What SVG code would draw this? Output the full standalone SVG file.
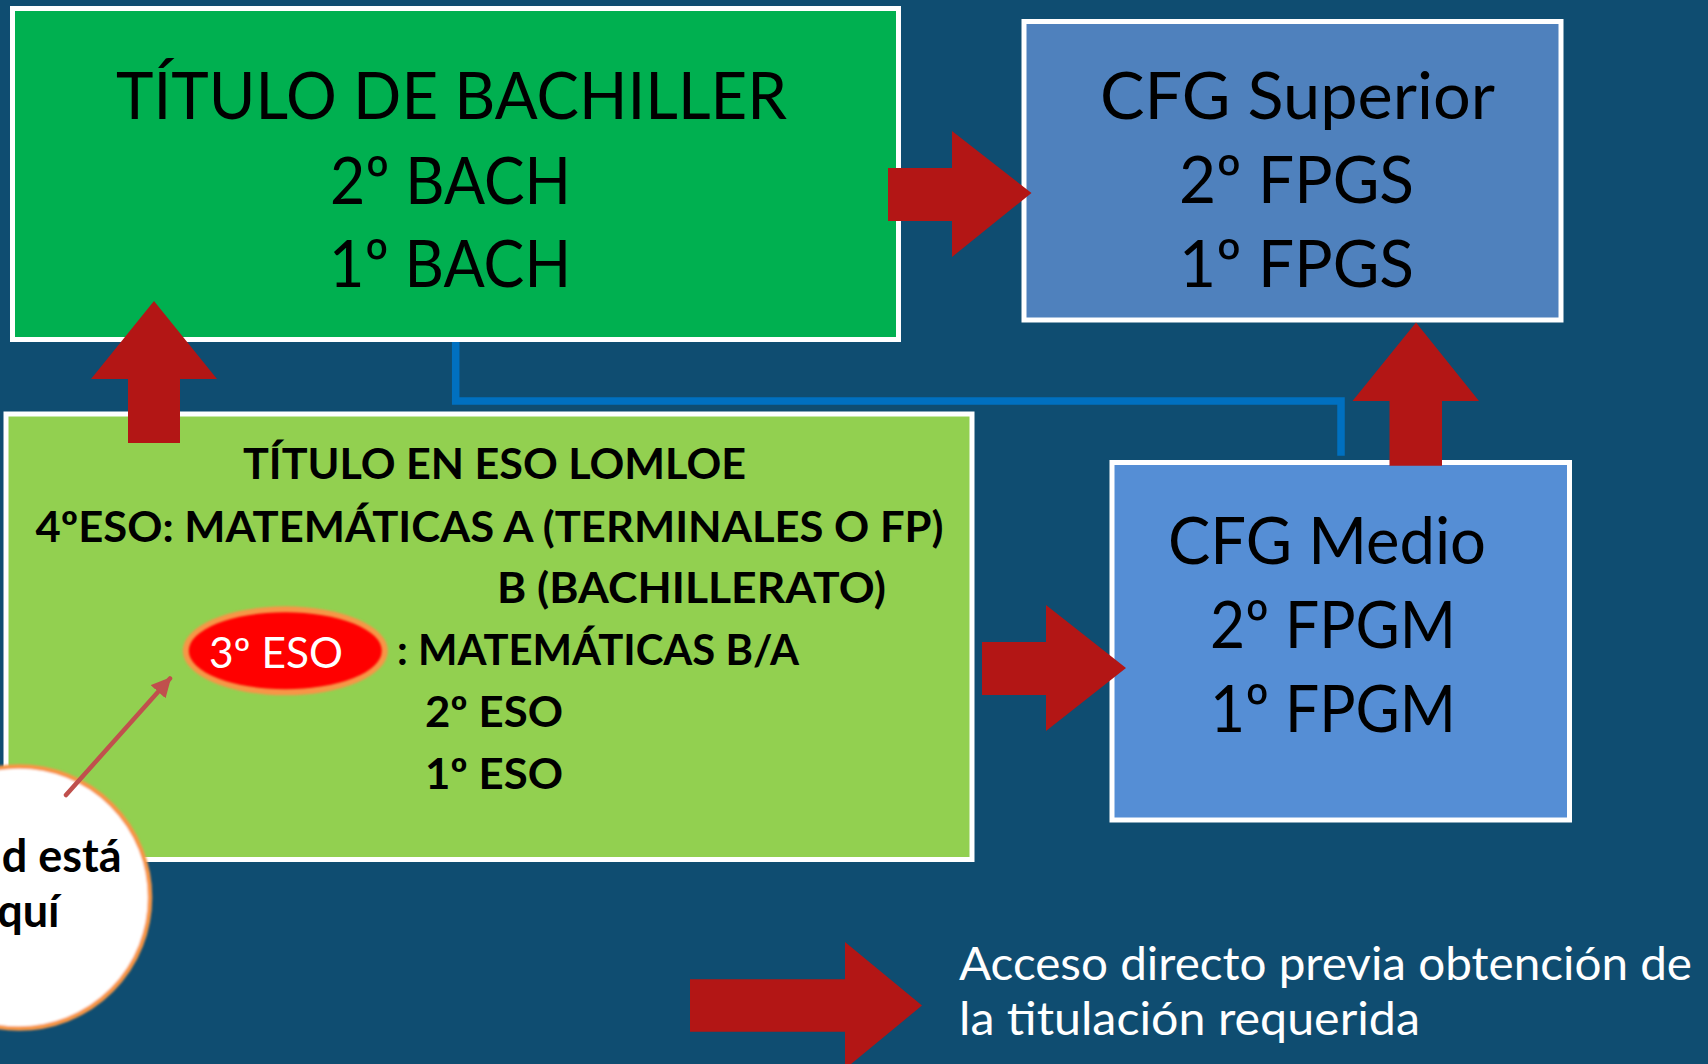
<svg xmlns="http://www.w3.org/2000/svg" width="1708" height="1064" viewBox="0 0 1708 1064">
  <defs>
    <style>
      .box { stroke: #ffffff; stroke-width: 5; }
      .big { font-family: Lato, "Liberation Sans", sans-serif; font-size: 66px; fill: #000000; }
      .eso { font-family: Lato, "Liberation Sans", sans-serif; font-size: 42px; font-weight: bold; fill: #000000; }
      .legend { font-family: Lato, "Liberation Sans", sans-serif; font-size: 47px; fill: #ffffff; }
      .arrow { fill: #b31615; }
      .link { fill: none; stroke: #0070c0; stroke-width: 7.5; }
    </style>
    <filter id="soft" x="-10%" y="-10%" width="120%" height="120%">
      <feGaussianBlur stdDeviation="1.2"/>
    </filter>
    <filter id="soft2" x="-10%" y="-10%" width="120%" height="120%">
      <feGaussianBlur stdDeviation="0.8"/>
    </filter>
    <marker id="thinhead" viewBox="0 0 10 10" refX="9" refY="5" markerWidth="4.4" markerHeight="4.4" orient="auto" markerUnits="strokeWidth">
      <path d="M0,0 L10,5 L0,10 Z" fill="#c0504d"/>
    </marker>
  </defs>

  <rect x="0" y="0" width="1708" height="1064" fill="#0f4d71"/>

  <g id="node-bachiller">
    <rect class="box" x="12.5" y="8.5" width="886" height="331" fill="#00b050"/>
    <text class="big" x="116" y="119" textLength="671" lengthAdjust="spacingAndGlyphs">TÍTULO DE BACHILLER</text>
    <text class="big" x="330" y="204" textLength="241" lengthAdjust="spacingAndGlyphs">2º BACH</text>
    <text class="big" x="329" y="287" textLength="242" lengthAdjust="spacingAndGlyphs">1º BACH</text>
  </g>

  <g id="node-cfg-superior">
    <rect class="box" x="1024" y="21.5" width="537" height="298.5" fill="#4f81bd"/>
    <text class="big" x="1100" y="119" textLength="395" lengthAdjust="spacingAndGlyphs">CFG Superior</text>
    <text class="big" x="1179" y="203" textLength="235" lengthAdjust="spacingAndGlyphs">2º FPGS</text>
    <text class="big" x="1179" y="287" textLength="235" lengthAdjust="spacingAndGlyphs">1º FPGS</text>
  </g>

  <g id="node-eso">
    <rect class="box" x="6" y="414" width="966" height="445.5" fill="#92d050"/>
    <text class="eso" x="243" y="479" textLength="503" lengthAdjust="spacingAndGlyphs">TÍTULO EN ESO LOMLOE</text>
    <text class="eso" x="35.5" y="541.7" textLength="908" lengthAdjust="spacingAndGlyphs">4ºESO: MATEMÁTICAS A (TERMINALES O FP)</text>
    <text class="eso" x="497" y="603.3" textLength="389" lengthAdjust="spacingAndGlyphs">B (BACHILLERATO)</text>
    <text class="eso" x="397" y="665" textLength="402" lengthAdjust="spacingAndGlyphs">: MATEMÁTICAS B/A</text>
    <text class="eso" x="425" y="726.7" textLength="138" lengthAdjust="spacingAndGlyphs">2º ESO</text>
    <text class="eso" x="425" y="789.3" textLength="138" lengthAdjust="spacingAndGlyphs">1º ESO</text>
  </g>

  <g id="node-3eso">
    <ellipse cx="285.3" cy="650.8" rx="102.5" ry="44.5" fill="#f79646" filter="url(#soft)"/>
    <ellipse cx="285.3" cy="650.8" rx="96.5" ry="38.5" fill="#ff0000" filter="url(#soft2)"/>
    <text x="209" y="668.3" textLength="134" lengthAdjust="spacingAndGlyphs" style="font-family: Lato, 'Liberation Sans', sans-serif; font-size: 42px; fill: #ffffff;">3º ESO</text>
  </g>

  <g id="node-cfg-medio">
    <rect class="box" x="1112" y="462.5" width="457.5" height="357.5" fill="#558ed5"/>
    <text class="big" x="1168" y="564" textLength="318" lengthAdjust="spacingAndGlyphs">CFG Medio</text>
    <text class="big" x="1210" y="648.3" textLength="246" lengthAdjust="spacingAndGlyphs">2º FPGM</text>
    <text class="big" x="1210" y="731.7" textLength="246" lengthAdjust="spacingAndGlyphs">1º FPGM</text>
  </g>

  <g id="node-usted">
    <circle cx="19" cy="897.5" r="131" fill="#ffffff" stroke="#f79646" stroke-width="4.5" filter="url(#soft2)"/>
    <text x="121.7" y="871.7" text-anchor="end" style="font-family: Lato, 'Liberation Sans', sans-serif; font-size: 45px; font-weight: bold; fill: #000000;">d está</text>
    <text x="59.5" y="926.7" text-anchor="end" style="font-family: Lato, 'Liberation Sans', sans-serif; font-size: 45px; font-weight: bold; fill: #000000;">quí</text>
  </g>

  <g id="node-legend">
    <polygon class="arrow" points="690,979.3 845,979.3 845,942 922,1005.5 845,1069 845,1031.7 690,1031.7"/>
    <text class="legend" x="959" y="979.5" textLength="733" lengthAdjust="spacingAndGlyphs">Acceso directo previa obtención de</text>
    <text class="legend" x="959" y="1035" textLength="461" lengthAdjust="spacingAndGlyphs">la titulación requerida</text>
  </g>

  <g id="connectors">
    <path class="link" d="M455.7,342 V401 H1341 V455.7"/>
    <polygon class="arrow" points="888,168 952,168 952,131 1031.5,193 952,257 952,221 888,221"/>
    <polygon class="arrow" points="154,301 217,379 180,379 180,443 128,443 128,379 91,379"/>
    <polygon class="arrow" points="1416,322.5 1479,401 1442,401 1442,465.7 1389.5,465.7 1389.5,401 1352.5,401"/>
    <polygon class="arrow" points="982,642 1046,642 1046,605 1126,668 1046,731 1046,695 982,695"/>
    <line x1="66" y1="795" x2="170" y2="678.5" stroke="#c0504d" stroke-width="4.5" stroke-linecap="round" marker-end="url(#thinhead)"/>
  </g>
</svg>
